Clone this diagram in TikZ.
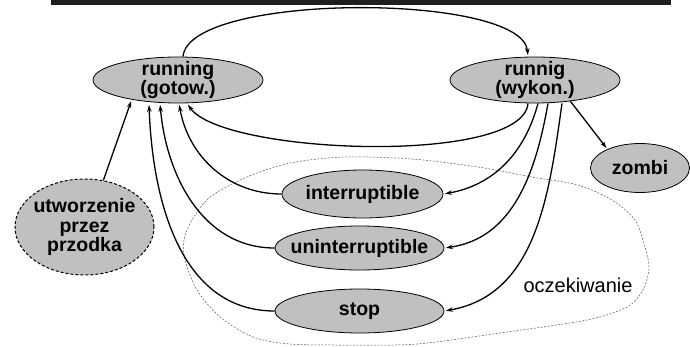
\documentclass[tikz,border=0pt]{standalone}
\usepackage{fontspec}
\setmainfont{Liberation Sans}
\usetikzlibrary{shapes.geometric,arrows.meta}
\definecolor{stanfill}{RGB}{192,192,192}

\begin{document}
\begin{tikzpicture}[x=1pt,y=1pt,
	stan/.style={ellipse,draw,line width=0.8pt,fill=stanfill,inner sep=0pt},
	napis/.style={font=\bfseries\fontsize{19.5}{19.5}\selectfont,align=center,inner sep=0pt},
	przej/.style={-{Stealth[length=7pt,width=4.5pt]},line width=1.3pt,shorten >=1.5pt}]
	\useasboundingbox (0,0) rectangle (690,346);
	\fill[black!88] (51,341) rectangle (671,346);

	\node[stan,minimum width=170pt,minimum height=46pt,label={[napis]center:running\\(gotow.)}] (gotow) at (178,266) {};
	\node[stan,minimum width=170pt,minimum height=46pt,label={[napis]center:runnig\\(wykon.)}] (wykon) at (535,266) {};
	\node[stan,minimum width=99pt,minimum height=49pt,label={[napis]center:zombi}] (zombi) at (640,178) {};
	\node[stan,minimum width=161pt,minimum height=48pt,label={[napis]center:interruptible}] (intr) at (362.5,152) {};
	\node[stan,minimum width=169pt,minimum height=44pt,label={[napis]center:uninterruptible}] (unintr) at (359.5,98) {};
	\node[stan,minimum width=169pt,minimum height=44pt,label={[napis]center:stop}] (stop) at (359.5,35) {};
	\node[stan,dash pattern=on 3pt off 2pt,line width=1pt,minimum width=139pt,minimum height=96pt,label={[napis]center:utworzenie\\przez\\przodka}] (utw) at (84.5,119) {};
	\node[font=\fontsize{20}{22}\selectfont,inner sep=0pt] (ocz) at (578,60.5) {oczekiwanie};

	\draw[gray!70!black,line width=0.5pt,dash pattern=on 2pt off 1.5pt] plot[smooth cycle] coordinates {
		(345,189) (412,187) (478,179) (532,169) (578,161) (612,146) (635,126) (645,99)
		(649,78) (643,56) (627,39) (587,26) (500,13) (417,2) (350,1) (290,2) (253,9)
		(220,29) (197,56) (185,86) (184,106) (192,126) (210,149) (247,169) (290,183)};

	\draw[przej] ([xshift=5pt]gotow.north) to[out=85,in=95,looseness=0.48] ([xshift=-7pt]wykon.north);
	\draw[przej] ([xshift=-7pt]wykon.south) to[out=-95,in=-55,looseness=0.47] ([xshift=9pt]gotow.south);
	\draw[przej] (wykon.-31) -- (zombi.150);
	\draw[przej] ([xshift=3pt]wykon.south) to[out=-105,in=10] (intr.east);
	\draw[przej] ([xshift=13pt]wykon.south) to[out=-100,in=8] (unintr.east);
	\draw[przej] ([xshift=27pt]wykon.south) to[out=-98,in=10] (stop.east);
	\draw[przej] (intr.west) to[out=180,in=-80] ([xshift=1pt]gotow.south);
	\draw[przej] (unintr.west) to[out=180,in=-85] ([xshift=-18pt]gotow.south);
	\draw[przej] (stop.west) to[out=180,in=-88] ([xshift=-29pt]gotow.south);
	\draw[przej] (utw.68) -- (gotow.-157);
\end{tikzpicture}
\end{document}
